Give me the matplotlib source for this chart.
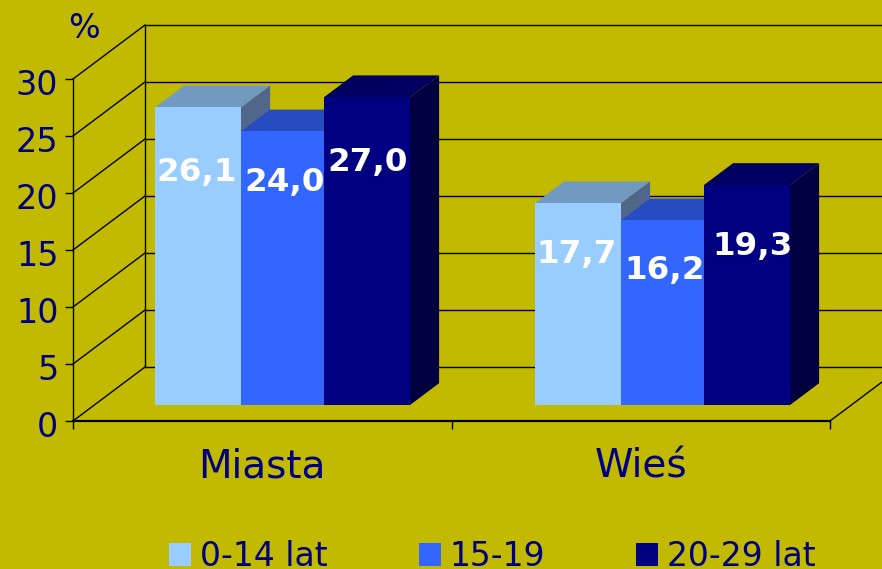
import numpy as np
import matplotlib
matplotlib.use('Agg')
import matplotlib.pyplot as plt
from matplotlib.patches import Patch, Polygon
from matplotlib.transforms import ScaledTranslation

categories = ['Miasta', 'Wieś']
series_names = ['0-14 lat', '15-19', '20-29 lat']
values_young = [26.1, 17.7]
values_teen = [24.0, 16.2]
values_adult = [27.0, 19.3]
y_ticks = [0, 5, 10, 15, 20, 25, 30]

front = ['#99CCFF', '#3366FF', '#000080']
top = ['#7299BF', '#264CBF', '#000060']
side = ['#51678A', '#1A3380', '#000040']
bg = '#C1BA00'
navy = '#000080'

W, H = 882, 569
fig = plt.figure(figsize=(W / 100, H / 100), dpi=100, facecolor=bg)
# axes = front plane of the 3d box, pixel positions from the picture
ax = fig.add_axes([73 / W, 1 - 421 / H, (830 - 73) / W, (421 - 79) / H])
ax.set_xlim(-0.5, 1.5)
ax.set_ylim(0, 30)
ax.patch.set_visible(False)
for s in ['top', 'right']:
    ax.spines[s].set_visible(False)
ax.spines['left'].set_linewidth(1.0)
ax.spines['bottom'].set_linewidth(1.6)

ux = 2 / (830 - 73)   # data units per pixel
uy = 30 / (421 - 79)
DX, DY = 72 * ux, 54 * uy  # full depth of the box


def depth(x, y, d):
    return x + d * DX, y + d * DY


# walls
for t in y_ticks:
    bx, by = depth(-0.5, t, 1)
    ax.plot([-0.5, bx], [t, by], color='black', lw=1.0, clip_on=False, zorder=1)
    ax.plot([bx, 1.5 + DX], [by, by], color='black', lw=1.0, clip_on=False, zorder=1)
bx, by = depth(-0.5, 0, 1)
ax.plot([bx, bx], [by, 30 + DY], color='black', lw=1.0, clip_on=False, zorder=1)
ax.plot([1.5, 1.5 + DX], [0, DY], color='black', lw=1.0, clip_on=False, zorder=1)

# bars
d0, d1 = 0.296, 0.70
group_left = [155, 535]    # px of the left front edge
bar_px = [86, 83, 86]      # the slide rounded the widths unevenly
series = [values_young, values_teen, values_adult]
for c in range(len(categories)):
    left = group_left[c] - d0 * 72
    for i, vals in enumerate(series):
        x0 = (left - 73) * ux - 0.5
        x1 = x0 + bar_px[i] * ux
        left += bar_px[i]
        v = vals[c]
        p = depth
        ax.add_patch(Polygon([p(x0, v, d0), p(x1, v, d0), p(x1, v, d1), p(x0, v, d1)],
                             fc=top[i], ec='none', clip_on=False, zorder=2))
        ax.add_patch(Polygon([p(x1, 0, d0), p(x1, v, d0), p(x1, v, d1), p(x1, 0, d1)],
                             fc=side[i], ec='none', clip_on=False, zorder=2))
        ax.add_patch(Polygon([p(x0, 0, d0), p(x1, 0, d0), p(x1, v, d0), p(x0, v, d0)],
                             fc=front[i], ec='none', clip_on=False, zorder=2))

# data labels, hand placed like in the original slide
label_at = [[(197, 172), (577, 255)], [(285, 183), (665, 271)], [(368, 163), (753, 246)]]
for i, vals in enumerate(series):
    for c, v in enumerate(vals):
        px, py = label_at[i][c]
        ax.text((px - 73) * ux - 0.5, (421 - py) * uy, f'{v:.1f}'.replace('.', ','),
                color='white', fontsize=23.4, fontweight='bold', ha='center', va='center',
                clip_on=False, zorder=3)

ax.set_yticks(y_ticks)
ax.tick_params(axis='y', labelsize=24, labelcolor=navy, length=6, width=1.0, pad=4.5)
shift = ScaledTranslation(0, -3 / 100, fig.dpi_scale_trans)
for lab in ax.get_yticklabels():
    lab.set_transform(lab.get_transform() + shift)
ax.set_xticks([-0.5, 0.5, 1.5])
ax.set_xticklabels([])
ax.tick_params(axis='x', which='major', length=6, width=1.0)
ax.set_xticks([0, 1], minor=True)
ax.set_xticklabels(categories, minor=True)
ax.tick_params(axis='x', which='minor', length=0, labelsize=28, labelcolor=navy, pad=19)

fig.text(84 / W, 1 - 29 / H, '%', color=navy, fontsize=24, ha='center', va='center')

handles = [Patch(fc=front[i], ec='none', label=series_names[i]) for i in range(3)]
fig.legend(handles=handles, loc='lower left', bbox_to_anchor=(169 / W, 1 - 573 / H), ncol=3,
           frameon=False, borderpad=0, borderaxespad=0, fontsize=23.8, labelcolor=navy,
           handlelength=0.667, handleheight=0.667, handletextpad=0.27, columnspacing=2.75)

fig.savefig('out.png', dpi=100, facecolor=bg)
